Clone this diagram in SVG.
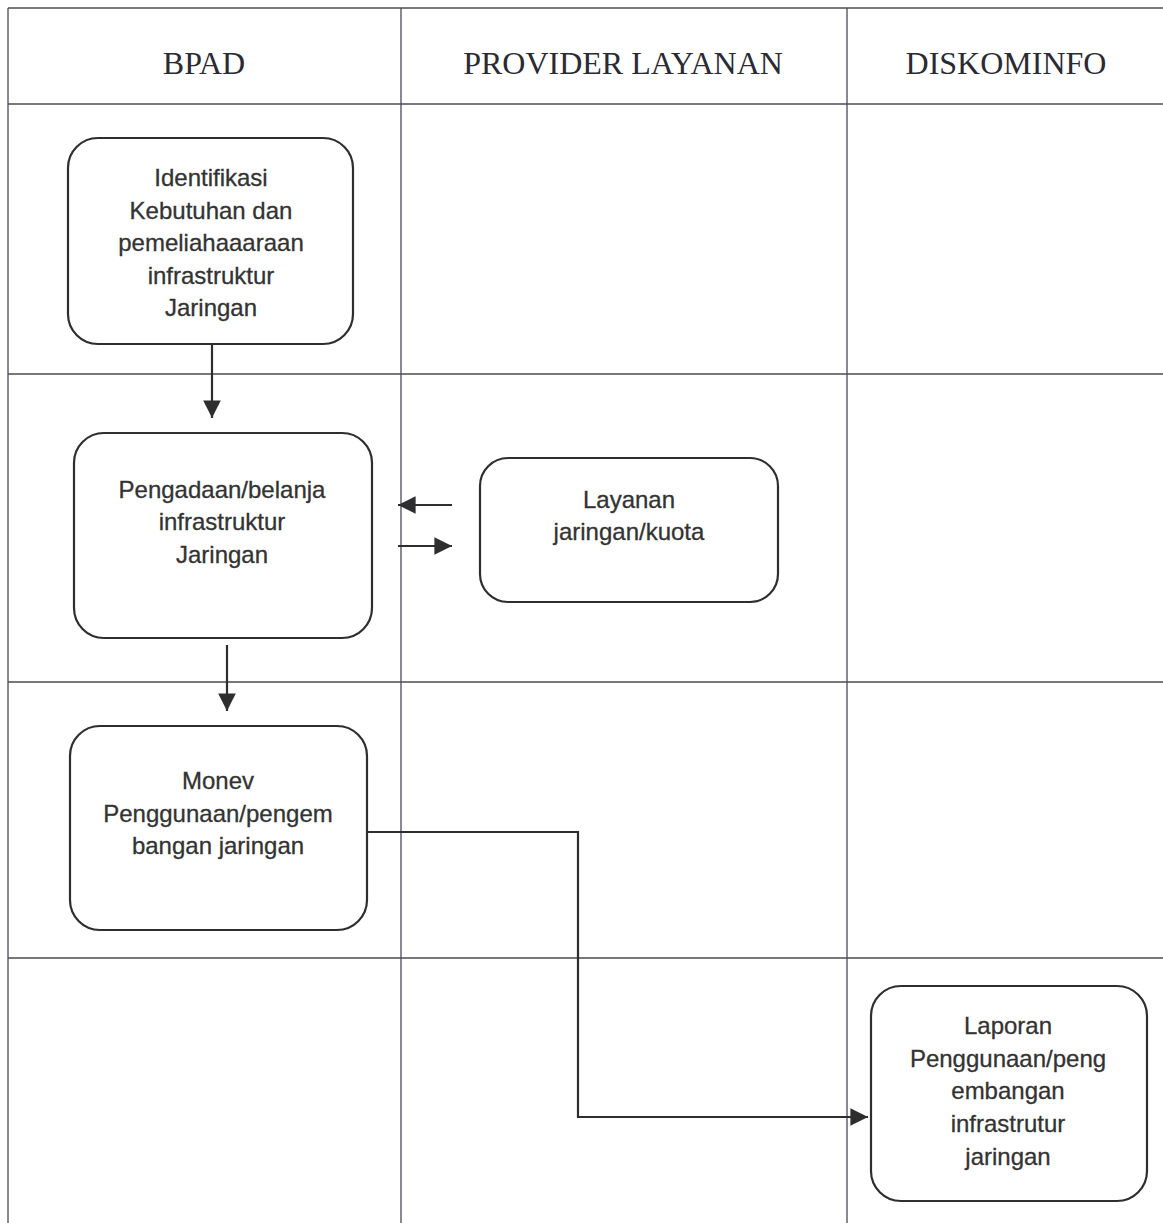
<svg xmlns="http://www.w3.org/2000/svg" width="1163" height="1223" viewBox="0 0 1163 1223">
<style>
.grid{stroke:#4a4a55;stroke-width:1.3;fill:none}
.box{fill:none;stroke:#2e2e2e;stroke-width:2.2}
.hdr{font-family:"Liberation Serif","Times New Roman",serif;font-size:32px;fill:#2a2a33;text-anchor:middle}
.lbl{font-family:"Liberation Sans",Arial,sans-serif;font-size:24px;fill:#333;stroke:#333;stroke-width:0.3;text-anchor:middle}
.conn{fill:none;stroke:#2e2e2e;stroke-width:2.2}
</style>
<defs>
<marker id="ah2" viewBox="0 0 10 10" refX="10" refY="5" markerWidth="8" markerHeight="8" orient="auto">
<path d="M0,0 L10,5 L0,10 z" fill="#2e2e2e"/>
</marker>
</defs>
<rect width="1163" height="1223" fill="#ffffff"/>
<g id="grid">
<line class="grid" x1="8" y1="8" x2="1163" y2="8"/>
<line class="grid" x1="8" y1="104" x2="1163" y2="104"/>
<line class="grid" x1="8" y1="374" x2="1163" y2="374"/>
<line class="grid" x1="8" y1="682" x2="1163" y2="682"/>
<line class="grid" x1="8" y1="958" x2="1163" y2="958"/>
<line class="grid" x1="8" y1="8" x2="8" y2="1223"/>
<line class="grid" x1="401" y1="8" x2="401" y2="1223"/>
<line class="grid" x1="847" y1="8" x2="847" y2="1223"/>
</g>
<g id="headers">
<text class="hdr" x="204" y="74">BPAD</text>
<text class="hdr" x="623" y="74">PROVIDER LAYANAN</text>
<text class="hdr" x="1006" y="74">DISKOMINFO</text>
</g>
<g id="n1">
<rect class="box" x="68" y="138" width="285" height="206" rx="30"/>
<text class="lbl" x="211" y="186">Identifikasi</text>
<text class="lbl" x="211" y="219">Kebutuhan dan</text>
<text class="lbl" x="211" y="251">pemeliahaaaraan</text>
<text class="lbl" x="211" y="284">infrastruktur</text>
<text class="lbl" x="211" y="316">Jaringan</text>
</g>
<g id="n2">
<rect class="box" x="74" y="433" width="298" height="205" rx="30"/>
<text class="lbl" x="222" y="498">Pengadaan/belanja</text>
<text class="lbl" x="222" y="530">infrastruktur</text>
<text class="lbl" x="222" y="563">Jaringan</text>
</g>
<g id="n3">
<rect class="box" x="480" y="458" width="298" height="144" rx="28"/>
<text class="lbl" x="629" y="508">Layanan</text>
<text class="lbl" x="629" y="540">jaringan/kuota</text>
</g>
<g id="n4">
<rect class="box" x="70" y="726" width="297" height="204" rx="30"/>
<text class="lbl" x="218" y="789">Monev</text>
<text class="lbl" x="218" y="822">Penggunaan/pengem</text>
<text class="lbl" x="218" y="854">bangan jaringan</text>
</g>
<g id="n5">
<rect class="box" x="871" y="986" width="276" height="215" rx="30"/>
<text class="lbl" x="1008" y="1034">Laporan</text>
<text class="lbl" x="1008" y="1067">Penggunaan/peng</text>
<text class="lbl" x="1008" y="1099">embangan</text>
<text class="lbl" x="1008" y="1132">infrastrutur</text>
<text class="lbl" x="1008" y="1165">jaringan</text>
</g>
<g id="connectors">
<line class="conn" x1="212" y1="345" x2="212" y2="418" marker-end="url(#ah2)"/>
<line class="conn" x1="227" y1="645" x2="227" y2="711" marker-end="url(#ah2)"/>
<line class="conn" x1="452" y1="505" x2="398" y2="505" marker-end="url(#ah2)"/>
<line class="conn" x1="398" y1="546" x2="452" y2="546" marker-end="url(#ah2)"/>
<polyline class="conn" points="367,832 578,832 578,1117 868,1117" marker-end="url(#ah2)"/>
</g>
</svg>
